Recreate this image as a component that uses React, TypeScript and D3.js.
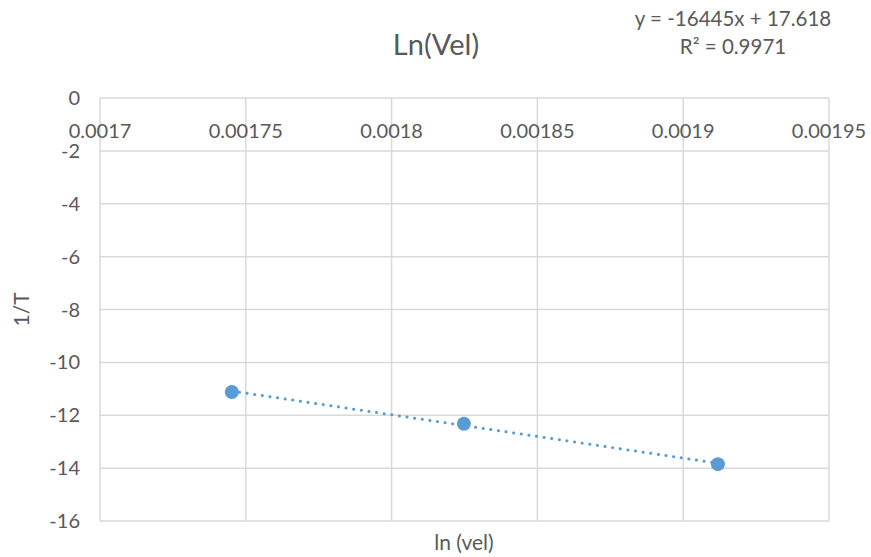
import React from "react";
import * as d3 from "d3";

const xValues = [0.0017452, 0.0018248, 0.0019119];
const yValues = [-11.12, -12.32, -13.85];
const xTicks = [0.0017, 0.00175, 0.0018, 0.00185, 0.0019, 0.00195];
const xTickLabels = ["0.0017", "0.00175", "0.0018", "0.00185", "0.0019", "0.00195"];
const yTicks = [0, -2, -4, -6, -8, -10, -12, -14, -16];
const titleText = "Ln(Vel)";
const xAxisTitle = "ln (vel)";
const yAxisTitle = "1/T";
const equationLines = ["y = -16445x + 17.618", "R² = 0.9971"];

const W = 871;
const H = 557;
const M = { left: 100, right: 829, top: 98, bottom: 521 };
const FONT = "Lato, 'Open Sans', sans-serif";
const TEXT = "#595959";
const GRID = "#d9d9d9";
const BLUE = "#5b9bd5";

export default function App() {
  const x = d3.scaleLinear().domain([0.0017, 0.00195]).range([M.left, M.right]);
  const y = d3.scaleLinear().domain([0, -16]).range([M.top, M.bottom]);

  const n = xValues.length;
  const mx = d3.mean(xValues)!;
  const my = d3.mean(yValues)!;
  let sxy = 0, sxx = 0;
  for (let i = 0; i < n; i++) {
    sxy += (xValues[i] - mx) * (yValues[i] - my);
    sxx += (xValues[i] - mx) ** 2;
  }
  const slope = sxy / sxx;
  const icpt = my - slope * mx;
  const x0 = d3.min(xValues)!;
  const x1 = d3.max(xValues)!;
  const line = d3.line<number>().x((d) => x(d)).y((d) => y(slope * d + icpt));

  return (
    <svg width={W} height={H} style={{ position: "absolute", left: 0, top: 0, background: "#fff" }}>
      <rect width={W} height={H} fill="#fff" />
      {yTicks.map((t) => (
        <line key={"gy" + t} x1={M.left} x2={M.right} y1={y(t)} y2={y(t)} stroke={GRID} strokeWidth={1.5} />
      ))}
      {xTicks.map((t) => (
        <line key={"gx" + t} x1={x(t)} x2={x(t)} y1={M.top} y2={M.bottom} stroke={GRID} strokeWidth={1.5} />
      ))}
      {yTicks.map((t) => (
        <text key={"ty" + t} x={80} y={y(t)} dy="0.35em" textAnchor="end" fontFamily={FONT} fontSize={20} fill={TEXT}>
          {t}
        </text>
      ))}
      {xTicks.map((t, i) => (
        <text key={"tx" + t} x={x(t)} y={131} dy="0.35em" textAnchor="middle" fontFamily={FONT} fontSize={20} fill={TEXT}>
          {xTickLabels[i]}
        </text>
      ))}
      <path
        d={line([x0, x1]) || ""}
        fill="none"
        stroke={BLUE}
        strokeWidth={3}
        strokeLinecap="round"
        strokeDasharray="0.1 7.6"
      />
      {xValues.map((v, i) => (
        <circle key={"p" + i} cx={x(v)} cy={y(yValues[i])} r={7} fill={BLUE} />
      ))}
      <text x={436} y={45} dy="0.35em" textAnchor="middle" fontFamily={FONT} fontSize={29} fill={TEXT}>
        {titleText}
      </text>
      {equationLines.map((s, i) => (
        <text key={"eq" + i} x={733} y={19 + i * 28} dy="0.35em" textAnchor="middle" fontFamily={FONT} fontSize={20.5} fill={TEXT}>
          {s}
        </text>
      ))}
      <text x={464} y={543} dy="0.35em" textAnchor="middle" fontFamily={FONT} fontSize={21} fill={TEXT}>
        {xAxisTitle}
      </text>
      <text
        transform={`translate(22,${(M.top + M.bottom) / 2}) rotate(-90)`}
        dy="0.35em"
        textAnchor="middle"
        fontFamily={FONT}
        fontSize={21}
        fill={TEXT}
      >
        {yAxisTitle}
      </text>
    </svg>
  );
}
